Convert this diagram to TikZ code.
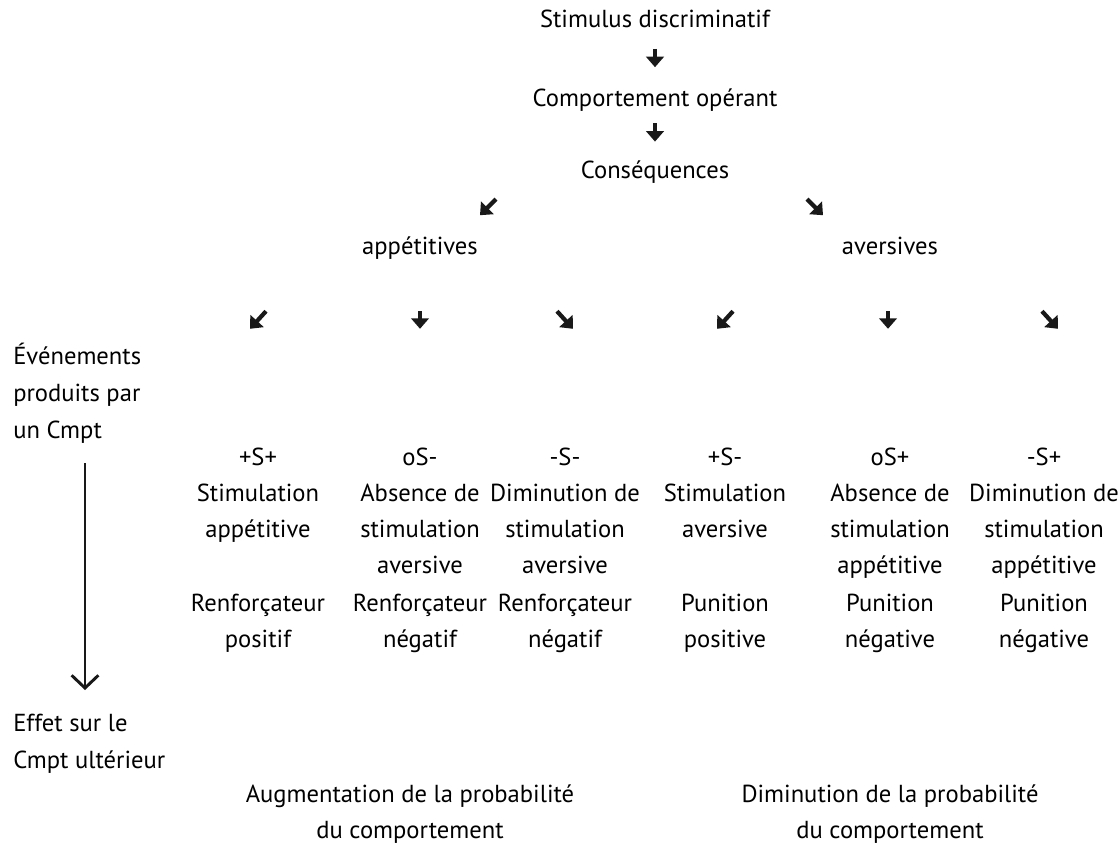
\documentclass[tikz,border=0pt]{standalone}
\usepackage{fontspec}
\setmainfont{PT Sans}
\usepackage{amsmath}
\usetikzlibrary{arrows.meta}

\begin{document}
\begin{tikzpicture}[auto,
		txt/.style={anchor=base, align=center, inner sep=0pt, font=\fontsize{17.5}{25.6}\selectfont},
		lft/.style={anchor=base west, align=left, inner sep=0pt, font=\fontsize{17.5}{26.2}\selectfont},
		fleche/.style={-{Triangle[length=7.5pt,width=12.5pt]}, line width=3pt, color=black!90},
		grande/.style={-{Straight Barb[length=9pt,width=19pt,line width=2.1pt]}, line width=2.1pt, color=black!90}]
		\useasboundingbox (0,0) rectangle (28,-21.175);

		\node[txt] at (16.375,-0.675) (stim) {Stimulus discriminatif};
		\node[txt] at (16.375,-2.65) (comp) {Comportement opérant};
		\node[txt] at (16.375,-4.45) (cons) {Conséquences};
		\node[txt] at (10.5,-6.35) (app) {appétitives};
		\node[txt] at (22.25,-6.35) (avers) {aversives};

		\coordinate (s1) at (16.375,-1.22);  \coordinate (e1) at (16.375,-1.68);
		\coordinate (s2) at (16.375,-3.08);  \coordinate (e2) at (16.375,-3.54);
		\coordinate (s3) at (12.4,-4.98);    \coordinate (e3) at (12.0,-5.38);
		\coordinate (s4) at (20.175,-4.98);  \coordinate (e4) at (20.575,-5.38);
		\draw[fleche] (s1) -- (e1);
		\draw[fleche] (s2) -- (e2);
		\draw[fleche] (s3) -- (e3);
		\draw[fleche] (s4) -- (e4);

		\foreach \x/\d in {6.45/1, 10.5/0, 14.125/-1, 18.125/1, 22.2/0, 26.25/-1}{
			\draw[fleche] (\x+0.2*\d,-7.78) -- (\x-0.2*\d,-8.22);
		}

		\node[lft] at (0.325,-10.95) (evts) {Événements\\produits par\\un Cmpt};
		\coordinate (haut) at (2.125,-11.575);
		\coordinate (bas) at (2.125,-17.25);
		\draw[grande] (haut) -- (bas);
		\node[lft] at (0.325,-19.2) (effet) {Effet sur le\\Cmpt ultérieur};

		\node[txt] at (6.45,-13.425) (c1) {+S+\\Stimulation\\appétitive};
		\node[txt] at (10.5,-14.325) (c2) {oS-\\Absence de\\stimulation\\aversive};
		\node[txt] at (14.125,-14.325) (c3) {-S-\\Diminution de\\stimulation\\aversive};
		\node[txt] at (18.125,-13.425) (c4) {+S-\\Stimulation\\aversive};
		\node[txt] at (22.25,-14.325) (c5) {oS+\\Absence de\\stimulation\\appétitive};
		\node[txt] at (26.1,-14.325) (c6) {-S+\\Diminution de\\stimulation\\appétitive};

		\node[txt] at (6.45,-16.175) (r1) {Renforçateur\\positif};
		\node[txt] at (10.5,-16.175) (r2) {Renforçateur\\négatif};
		\node[txt] at (14.125,-16.175) (r3) {Renforçateur\\négatif};
		\node[txt] at (18.125,-16.175) (r4) {Punition\\positive};
		\node[txt] at (22.25,-16.175) (r5) {Punition\\négative};
		\node[txt] at (26.1,-16.175) (r6) {Punition\\négative};

		\node[txt] at (10.25,-20.95) (aug) {Augmentation de la probabilité\\du comportement};
		\node[txt] at (22.25,-20.95) (dim) {Diminution de la probabilité\\du comportement};

	\end{tikzpicture}
\end{document}
